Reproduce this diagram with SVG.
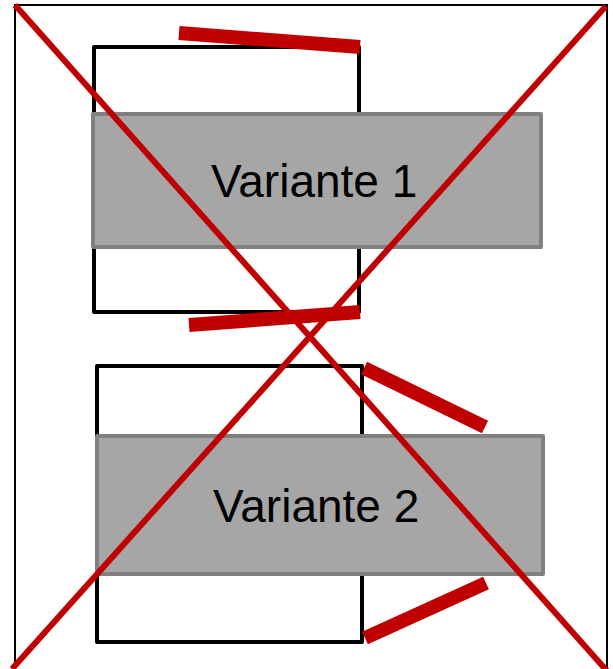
<svg xmlns="http://www.w3.org/2000/svg" width="613" height="669" viewBox="0 0 613 669">
<style>
.frame{fill:none;stroke:#000;stroke-width:2}
.box{fill:none;stroke:#000;stroke-width:4;stroke-linejoin:round}
.var{fill:#a6a6a6;stroke:#808080;stroke-width:4;stroke-linejoin:round}
.lbl{font-family:"Liberation Sans",Arial,sans-serif;font-size:46px;fill:#000}
.bar{stroke:#c00000;stroke-width:14;fill:none}
.cross{stroke:#c00000;stroke-width:6;fill:none}
</style>
<rect width="613" height="669" fill="#fff"/>
<g id="frame"><rect class="frame" x="15" y="5" width="592" height="670"/></g>
<g id="box1"><rect class="box" x="94" y="47" width="265" height="265"/></g>
<g id="box2"><rect class="box" x="97" y="366" width="265" height="276"/></g>
<g id="variante1"><rect class="var" x="93" y="114" width="448" height="133"/><text class="lbl" x="211" y="197">Variante 1</text></g>
<g id="variante2"><rect class="var" x="97" y="436" width="446" height="138"/><text class="lbl" x="213" y="522">Variante 2</text></g>
<g id="connectors">
<line class="bar" x1="179" y1="33" x2="360" y2="47"/>
<line class="bar" x1="189" y1="325" x2="360" y2="312"/>
<line class="bar" x1="364" y1="368" x2="485" y2="427"/>
<line class="bar" x1="365" y1="638" x2="486" y2="583"/>
<line class="cross" x1="15" y1="5" x2="607" y2="671"/>
<line class="cross" x1="606" y1="6" x2="12" y2="669"/>
</g>
</svg>
